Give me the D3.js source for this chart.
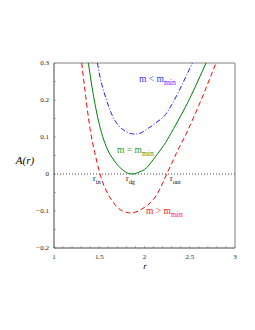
<!DOCTYPE html>
<html lang="en">
<head>
  <meta charset="utf-8">
  <title>A(r)</title>
  <script src="https://d3js.org/d3.v7.min.js"></script>
  <style>
    body { margin: 0; background: #fff; }
    text { font-family: "Liberation Serif", "DejaVu Serif", serif; }
  </style>
</head>
<body>
  <script>
    var width = 255;
    var height = 330;

    // curves: r and A(r)
    var rRed   = [1.306, 1.35, 1.40, 1.45, 1.508, 1.55, 1.60, 1.65, 1.70, 1.75, 1.80, 1.85, 1.90, 1.95, 2.00, 2.05, 2.10, 2.15, 2.20, 2.245, 2.30, 2.35, 2.40, 2.45, 2.50, 2.60, 2.70, 2.79];
    var aRed   = [0.30, 0.21, 0.12, 0.058, 0.0, -0.03, -0.056, -0.075, -0.09, -0.099, -0.104, -0.105, -0.103, -0.098, -0.09, -0.081, -0.068, -0.05, -0.025, 0.0, 0.028, 0.055, 0.08, 0.103, 0.13, 0.185, 0.245, 0.30];
    var rGreen = [1.38, 1.42, 1.46, 1.50, 1.55, 1.60, 1.64, 1.70, 1.75, 1.80, 1.87, 1.93, 2.00, 2.05, 2.10, 2.15, 2.20, 2.25, 2.35, 2.45, 2.55, 2.68];
    var aGreen = [0.30, 0.235, 0.18, 0.135, 0.092, 0.062, 0.045, 0.025, 0.013, 0.004, 0.0, 0.004, 0.012, 0.024, 0.04, 0.056, 0.073, 0.092, 0.135, 0.18, 0.23, 0.30];
    var rBlue  = [1.48, 1.52, 1.58, 1.64, 1.70, 1.75, 1.80, 1.85, 1.90, 1.95, 2.00, 2.05, 2.10, 2.15, 2.22, 2.33, 2.44, 2.53];
    var aBlue  = [0.30, 0.25, 0.20, 0.16, 0.135, 0.122, 0.114, 0.109, 0.108, 0.11, 0.117, 0.125, 0.133, 0.143, 0.157, 0.20, 0.254, 0.30];

    var xTicks = [1, 1.5, 2, 2.5, 3];
    var yTicks = [0.3, 0.2, 0.1, 0, -0.1, -0.2];
    var xTickLabels = ["1", "1.5", "2", "2.5", "3"];
    var yTickLabels = ["0.3", "0.2", "0.1", "0", "\u22120.1", "\u22120.2"];

    var svg = d3.select("body")
      .append("svg")
      .attr("width", width)
      .attr("height", height);

    var x = d3.scaleLinear().domain([1, 3]).range([54, 235]);
    var y = d3.scaleLinear().domain([-0.2, 0.3]).range([248, 63]);

    svg.append("clipPath").attr("id", "plot")
      .append("rect")
      .attr("x", x(1)).attr("y", y(0.3))
      .attr("width", x(3) - x(1)).attr("height", y(-0.2) - y(0.3));

    // minor ticks, inward
    var g = svg.append("g");
    g.selectAll("line.mx")
      .data(d3.range(1, 3.001, 0.1))
      .enter().append("line")
      .attr("x1", function(d) { return x(d); })
      .attr("x2", function(d) { return x(d); })
      .attr("y1", y(-0.2)).attr("y2", y(-0.2) - 2)
      .attr("stroke", "#888").attr("stroke-width", 0.6);
    g.selectAll("line.my")
      .data(d3.range(-0.2, 0.301, 0.05))
      .enter().append("line")
      .attr("y1", function(d) { return y(d); })
      .attr("y2", function(d) { return y(d); })
      .attr("x1", x(1)).attr("x2", x(1) + 2)
      .attr("stroke", "#888").attr("stroke-width", 0.6);

    // frame: gray top/right, dark left/bottom
    svg.append("line").attr("x1", x(1)).attr("x2", x(3)).attr("y1", y(0.3)).attr("y2", y(0.3))
      .attr("stroke", "#aaa").attr("stroke-width", 1.5);
    svg.append("line").attr("x1", x(3)).attr("x2", x(3)).attr("y1", y(0.3)).attr("y2", y(-0.2))
      .attr("stroke", "#aaa").attr("stroke-width", 1.5);
    svg.append("line").attr("x1", x(1)).attr("x2", x(1)).attr("y1", y(0.3)).attr("y2", y(-0.2))
      .attr("stroke", "#444").attr("stroke-width", 1);
    svg.append("line").attr("x1", x(1)).attr("x2", x(3)).attr("y1", y(-0.2)).attr("y2", y(-0.2))
      .attr("stroke", "#444").attr("stroke-width", 1);

    // zero line
    svg.append("line").attr("x1", x(1)).attr("x2", x(3)).attr("y1", y(0)).attr("y2", y(0))
      .attr("stroke", "#444").attr("stroke-width", 1).attr("stroke-dasharray", "1,2");

    // tick labels
    svg.selectAll("text.xt")
      .data(xTicks)
      .enter().append("text")
      .attr("x", function(d) { return x(d); })
      .attr("y", 259)
      .attr("text-anchor", "middle")
      .attr("font-size", 7)
      .attr("fill", "#222")
      .text(function(d, i) { return xTickLabels[i]; });
    svg.selectAll("text.yt")
      .data(yTicks)
      .enter().append("text")
      .attr("x", 49)
      .attr("y", function(d) { return y(d) + 2.3; })
      .attr("text-anchor", "end")
      .attr("font-size", 7)
      .attr("fill", "#222")
      .text(function(d, i) { return yTickLabels[i]; });

    svg.append("text").attr("x", 145).attr("y", 269).attr("text-anchor", "middle")
      .attr("font-size", 9).attr("font-style", "italic").text("r");
    svg.append("text").attr("x", 25).attr("y", 164).attr("text-anchor", "middle")
      .attr("font-size", 11).attr("font-style", "italic").text("A(r)");

    // curves
    var line = d3.line()
      .x(function(d) { return x(d[0]); })
      .y(function(d) { return y(d[1]); })
      .curve(d3.curveNatural);

    var curves = svg.append("g").attr("clip-path", "url(#plot)");
    curves.append("path")
      .datum(d3.zip(rBlue, aBlue))
      .attr("fill", "none").attr("stroke", "#0000ff").attr("stroke-width", 0.9)
      .attr("stroke-dasharray", "5,2,1,2")
      .attr("d", line);
    curves.append("path")
      .datum(d3.zip(rGreen, aGreen))
      .attr("fill", "none").attr("stroke", "#008000").attr("stroke-width", 1)
      .attr("d", line);
    curves.append("path")
      .datum(d3.zip(rRed, aRed))
      .attr("fill", "none").attr("stroke", "#ff0000").attr("stroke-width", 1)
      .attr("stroke-dasharray", "5,3")
      .attr("d", line);

    // labels
    function label(tx, ty, main, sub, color, size) {
      var t = svg.append("text").attr("x", tx).attr("y", ty)
        .attr("font-size", size).attr("fill", color);
      t.append("tspan").text(main);
      t.append("tspan").attr("dy", 2.5).attr("font-size", size * 0.8).text(sub);
    }
    label(139, 82, "m < m", "min", "#3333ff", 9.5);
    label(117, 153, "m = m", "min", "#2a9a2a", 9.5);
    label(146, 214, "m > m", "min", "#ff2020", 9.5);
    label(93, 181, "r", "in", "#111", 8);
    label(126, 181, "r", "dg", "#111", 8);
    label(170, 181, "r", "out", "#111", 8);
  </script>
</body>
</html>
